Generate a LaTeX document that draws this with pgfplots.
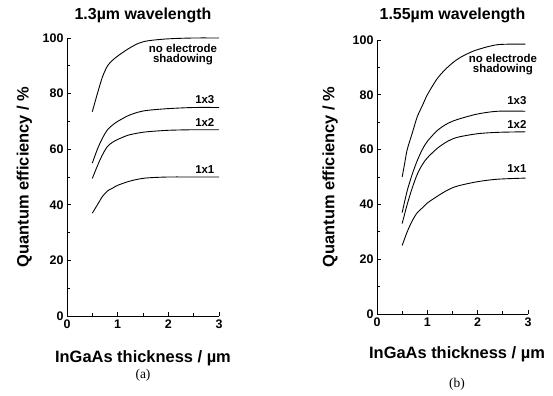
\documentclass[border=0pt]{standalone}
\usepackage{pgfplots}
\pgfplotsset{compat=1.18}
\usepackage{fontspec}
\setmainfont{Liberation Sans}
\newfontfamily\seriffont{Liberation Serif}

\pgfplotsset{
 myax/.style={
  scale only axis,
  xmin=0,xmax=3,ymin=0,ymax=100,
  axis x line*=bottom, axis y line*=left,
  axis line style={line width=1pt, -},
  xtick={0,1,2,3}, ytick={0,20,...,100},
  minor xtick={0.5,1.5,2.5}, minor ytick={10,30,50,70,90},
  tick align=inside, major tick length=4bp, minor tick length=2.5bp,
  tick style={line width=0.8pt, black},
  ticklabel style={font=\fontsize{12.5}{14}\selectfont\bfseries},
  /pgf/number format/assume math mode=true,
  label style={font=\fontsize{16.5}{18}\selectfont\bfseries},
  title style={font=\fontsize{16}{18}\selectfont\bfseries},
  every axis title shift=0pt,
  clip=false,
 },
 crv/.style={black, line width=0.9pt, smooth},
}
\tikzset{lab/.style={font=\fontsize{11.5}{12.5}\selectfont\bfseries, align=center}}

\begin{document}
\begin{tikzpicture}
\useasboundingbox (0,0) rectangle (553bp,396bp);
\begin{axis}[myax, at={(67bp,80bp)}, anchor=south west, width=152bp, height=278bp,
  title={1.3µm wavelength},
  title style={at={(axis description cs:0.5,1.083)},anchor=center},
  xlabel={InGaAs thickness / µm},
  xlabel style={at={(axis description cs:0.5,-0.151)},anchor=center},
  ylabel={Quantum efficiency / \%},
  ylabel style={at={(axis description cs:-0.28,0.5)},anchor=center},
]
\addplot[crv] coordinates {(0.5,73.5)(0.6,80)(0.7,86)(0.8,90)(0.9,92)(1.0,93.5)(1.2,96)(1.4,98)(1.6,99)(2,99.7)(2.5,100)(3,100)};
\addplot[crv] coordinates {(0.5,55)(0.6,60)(0.7,64)(0.8,67)(0.9,68.7)(1.0,70)(1.2,72)(1.4,73.3)(1.6,74)(2,74.6)(2.5,75)(3,75)};
\addplot[crv] coordinates {(0.5,49.5)(0.6,54)(0.7,58)(0.8,61)(0.9,62.5)(1.0,63.5)(1.2,65)(1.4,65.8)(1.6,66.3)(2,66.8)(2.5,67)(3,67)};
\addplot[crv] coordinates {(0.5,37)(0.6,40)(0.7,43)(0.8,45)(0.9,46)(1.0,47)(1.2,48.3)(1.4,49.2)(1.6,49.7)(2,50)(2.5,50)(3,50)};
\node[lab] at (axis cs:2.29,94) {no electrode\\[-2pt]shadowing};
\node[lab] at (axis cs:2.72,78) {1x3};
\node[lab] at (axis cs:2.72,69.5) {1x2};
\node[lab] at (axis cs:2.72,52.5) {1x1};
\node[font=\seriffont\fontsize{13.5}{15}\selectfont] at (axis description cs:0.5,-0.214) {(a)};
\end{axis}

\begin{axis}[myax, at={(377bp,82bp)}, anchor=south west, width=151bp, height=274bp,
  title={1.55µm wavelength},
  title style={at={(axis description cs:0.5,1.09)},anchor=center},
  xlabel={InGaAs thickness / µm},
  xlabel style={at={(axis description cs:0.53,-0.146)},anchor=center},
  ylabel={Quantum efficiency / \%},
  ylabel style={at={(axis description cs:-0.31,0.5)},anchor=center},
]
\addplot[crv] coordinates {(0.5,50)(0.55,55)(0.6,60)(0.7,66)(0.8,72)(0.9,76)(1.0,80)(1.2,86)(1.4,90)(1.6,93)(1.8,95)(2.0,96.5)(2.4,98.3)(2.95,98.5)};
\addplot[crv] coordinates {(0.5,37)(0.6,45)(0.7,51)(0.8,56)(0.9,60)(1.0,63)(1.2,67)(1.4,69.5)(1.6,71)(2.0,73)(2.4,74)(2.95,74)};
\addplot[crv] coordinates {(0.5,33)(0.6,40)(0.7,46)(0.8,51)(0.9,54.5)(1.0,57)(1.2,60.5)(1.4,63)(1.6,64.5)(2.0,65.8)(2.4,66.3)(2.95,66.5)};
\addplot[crv] coordinates {(0.5,25)(0.6,30)(0.7,34)(0.8,37)(0.9,38.7)(1.0,40.5)(1.2,43)(1.4,45.2)(1.6,46.7)(2.0,48.3)(2.4,49.2)(2.95,49.6)};
\node[lab] at (axis cs:2.5,91) {no electrode\\[-2pt]shadowing};
\node[lab] at (axis cs:2.78,78) {1x3};
\node[lab] at (axis cs:2.78,69.3) {1x2};
\node[lab] at (axis cs:2.78,53) {1x1};
\node[font=\seriffont\fontsize{13.5}{15}\selectfont] at (axis description cs:0.53,-0.257) {(b)};
\end{axis}
\end{tikzpicture}
\end{document}
